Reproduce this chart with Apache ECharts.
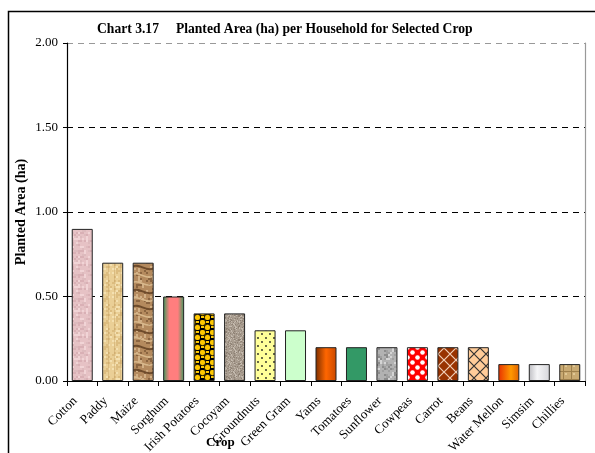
<!DOCTYPE html>
<html>
<head>
<meta charset="utf-8">
<script src="https://cdn.jsdelivr.net/npm/echarts@6/dist/echarts.min.js"></script>
<style>
html,body{margin:0;padding:0;background:#fff;}
#c{width:595px;height:453px;}
</style>
</head>
<body>
<div id="c"></div>
<script>
const categories = ['Cotton','Paddy','Maize','Sorghum','Irish Potatoes','Cocoyam','Groundnuts','Green Gram','Yams','Tomatoes','Sunflower','Cowpeas','Carrot','Beans','Water Mellon','Simsim','Chillies'];
const values = [0.90,0.70,0.70,0.50,0.40,0.40,0.30,0.30,0.20,0.20,0.20,0.20,0.20,0.20,0.10,0.10,0.10];
const yTicks = [0,0.5,1.0,1.5,2.0];

function hash(i,j){const s=Math.sin(i*12.9898+j*78.233)*43758.5453;return s-Math.floor(s);}
function pat(w,h,draw){const c=document.createElement('canvas');c.width=w;c.height=h;const g=c.getContext('2d');draw(g,w,h);return {image:c,repeat:'repeat'};}
function noise(base,cols,w,h,cell,seed){return pat(w,h,(g)=>{g.fillStyle=base;g.fillRect(0,0,w,h);for(let i=0;i<w;i+=cell)for(let j=0;j<h;j+=cell){const r=hash(i+seed,j+seed*3);if(r<0.5){g.fillStyle=cols[Math.floor(r*2*cols.length)%cols.length];g.fillRect(i,j,cell,cell);}}});}
function hgrad(stops){return {type:'linear',x:0,y:0,x2:1,y2:0,colorStops:stops.map(s=>({offset:s[0],color:s[1]}))};}
function lattice(bg,line){return pat(12,12,(g)=>{g.fillStyle=bg;g.fillRect(0,0,12,12);g.strokeStyle=line;g.lineWidth=1.2;g.beginPath();g.moveTo(0,0);g.lineTo(12,12);g.moveTo(12,0);g.lineTo(0,12);g.stroke();});}

const fills = {
  'Cotton': noise('#E6C2C5',['#D9B0B5','#F1D4D6','#DDBABD'],24,24,2,1),
  'Paddy': pat(24,24,(g)=>{g.fillStyle='#EACF96';g.fillRect(0,0,24,24);for(let i=0;i<24;i+=2)for(let j=0;j<24;j+=2){const r=hash(i,j+5);if(r<0.4){g.fillStyle=r<0.2?'#DCBC7F':'#F4E0B0';g.fillRect(i,j,2,2);}}g.fillStyle='rgba(190,150,90,0.35)';for(let i=0;i<24;i+=6)g.fillRect(i,0,1,24);}),
  'Maize': pat(22,40,(g)=>{g.fillStyle='#B48A5E';g.fillRect(0,0,22,40);for(let i=0;i<22;i+=2)for(let j=0;j<40;j+=2){const r=hash(i+3,j+9);if(r<0.35){g.fillStyle=r<0.17?'#8A6440':'#D2B086';g.fillRect(i,j,2,2);}}for(let k=0;k<5;k++){g.strokeStyle=k%2?'#6E4B2B':'#D8B88C';g.lineWidth=k%2?2:1.5;g.beginPath();const y0=k*8+3;g.moveTo(0,y0);g.bezierCurveTo(7,y0-5,14,y0+6,22,y0+1);g.stroke();}}),
  'Sorghum': hgrad([[0,'#3A9A5C'],[0.3,'#FF7E7E'],[0.7,'#FF7E7E'],[1,'#3A9A5C']]),
  'Irish Potatoes': pat(10,10,(g)=>{g.fillStyle='#000';g.fillRect(0,0,10,10);g.fillStyle='#FFC800';g.strokeStyle='#000';g.lineWidth=0.8;[[2.5,2.5],[7.5,7.5]].forEach(p=>{g.beginPath();g.arc(p[0],p[1],3.2,0,Math.PI*2);g.fill();g.stroke();});g.fillStyle='#FFC800';g.fillRect(6,1,3,2);g.fillRect(1,6,3,2);}),
  'Cocoyam': noise('#AA9E91',['#8D8073','#C4BAAE','#9C9083'],24,24,1,7),
  'Groundnuts': pat(8,8,(g)=>{g.fillStyle='#FFFF99';g.fillRect(0,0,8,8);g.fillStyle='#222';[[2,2],[6,6]].forEach(p=>{g.beginPath();g.arc(p[0],p[1],0.9,0,Math.PI*2);g.fill();});}),
  'Green Gram': '#CCFFCC',
  'Yams': hgrad([[0,'#7A2E00'],[0.5,'#FF6600'],[1,'#C84800']]),
  'Tomatoes': '#339966',
  'Sunflower': noise('#B2B2B2',['#8C8C8C','#D4D4D4','#A0A0A0'],24,24,2,11),
  'Cowpeas': pat(10,10,(g)=>{g.fillStyle='#FF0000';g.fillRect(0,0,10,10);g.fillStyle='#FFFFFF';[[2.5,2.5],[7.5,7.5]].forEach(p=>{g.beginPath();g.arc(p[0],p[1],2.3,0,Math.PI*2);g.fill();});}),
  'Carrot': lattice('#993300','#F2D0B8'),
  'Beans': lattice('#FFCC99','#333333'),
  'Water Mellon': hgrad([[0,'#E83000'],[0.6,'#FF9900'],[1,'#E06000']]),
  'Simsim': hgrad([[0,'#BDBDC2'],[0.4,'#F5F5F7'],[1,'#D6D6DA']]),
  'Chillies': pat(8,8,(g)=>{g.fillStyle='#C9AA72';g.fillRect(0,0,8,8);g.fillStyle='#9E804C';g.fillRect(0,3,8,1);g.fillRect(3,0,1,8);g.fillStyle='#E0C895';g.fillRect(5,5,2,2);})
};

const serif = '"Liberation Serif","Times New Roman",serif';
const chart = echarts.init(document.getElementById('c'));
chart.setOption({
  animation:false,
  backgroundColor:'#fff',
  title:{text:'Chart 3.17     Planted Area (ha) per Household for Selected Crop',left:92,top:17,textStyle:{fontFamily:serif,fontWeight:'bold',fontSize:13.6,color:'#000'}},
  grid:{left:67,right:10,top:43,bottom:72,containLabel:false,outerBoundsMode:'none'},
  xAxis:{type:'category',data:categories,boundaryGap:true,
    axisLine:{lineStyle:{color:'#000',width:1.2}},
    axisTick:{show:true,interval:0,length:5,lineStyle:{color:'#000'}},
    axisLabel:{interval:0,rotate:45,margin:11,padding:[0,10,0,0],fontFamily:serif,fontSize:13,color:'#000'}},
  yAxis:[{type:'value',min:yTicks[0],max:yTicks[yTicks.length-1],interval:0.5,
    name:'Planted Area (ha)',nameLocation:'middle',nameGap:39,nameMoveOverlap:false,
    nameTextStyle:{fontFamily:serif,fontWeight:'bold',fontSize:14,color:'#000'},
    axisLine:{show:true,lineStyle:{color:'#000',width:1.2}},
    axisTick:{show:true,length:4,lineStyle:{color:'#000'}},
    axisLabel:{formatter:v=>v.toFixed(2),margin:9,fontFamily:serif,fontSize:13,color:'#000'},
    splitLine:{show:true,lineStyle:{type:[6,5],color:['#000','#000','#000','#000','#999'],width:1}}},
    {type:'value',position:'right',min:0,max:2,interval:0.5,axisLine:{show:true,lineStyle:{color:'#999',width:1.2}},axisTick:{show:false},axisLabel:{show:false},splitLine:{show:false}}],
  series:[{type:'bar',barWidth:21,
    data:values.map((v,i)=>({value:v,itemStyle:{color:fills[categories[i]],borderColor:'#222',borderWidth:1}}))}],
  graphic:[
    {type:'rect',shape:{x:8.5,y:11.5,width:700,height:600},style:{fill:'none',stroke:'#000',lineWidth:1.5},silent:true},
    {type:'text',left:206,top:436,style:{text:'Crop',font:'bold 13px '+serif,fill:'#000'}}
  ]
});
</script>
</body>
</html>
